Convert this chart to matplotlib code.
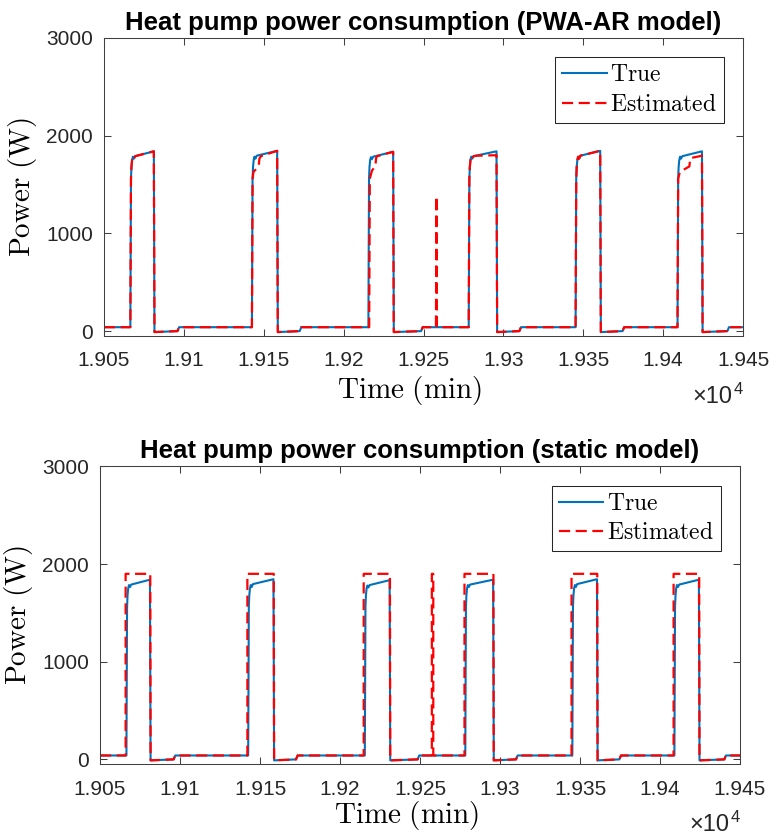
import matplotlib
matplotlib.use("Agg")
import matplotlib.pyplot as plt

plt.rcParams['font.family'] = ['Liberation Sans', 'DejaVu Sans']
plt.rcParams['mathtext.fontset'] = 'cm'

# time axis (min) and tick labels
xticks = [19050, 19100, 19150, 19200, 19250, 19300, 19350, 19400, 19450]
xticklabels = ['1.905', '1.91', '1.915', '1.92', '1.925', '1.93', '1.935', '1.94', '1.945']
yticks = [0, 1000, 2000, 3000]

# measured heat pump power (W)
true_t = [19050,
          19066.5, 19066.9, 19067.2, 19067.6, 19068.1, 19068.7, 19069.5, 19081.2, 19081.6, 19096.0, 19097.0,
          19142.6, 19143.0, 19143.3, 19143.7, 19144.2, 19144.8, 19145.6, 19158.4, 19158.8, 19172.5, 19173.5,
          19215.5, 19215.9, 19216.2, 19216.6, 19217.1, 19217.7, 19218.5, 19231.0, 19231.4, 19248.5, 19249.5,
          19278.3, 19278.7, 19279.0, 19279.4, 19279.9, 19280.5, 19281.3, 19295.7, 19296.1, 19310.0, 19311.0,
          19345.2, 19345.6, 19345.9, 19346.3, 19346.8, 19347.4, 19348.2, 19360.6, 19361.0, 19374.6, 19375.6,
          19409.0, 19409.4, 19409.7, 19410.1, 19410.6, 19411.2, 19412.0, 19424.3, 19424.7, 19440.2, 19441.2,
          19450]
true_w = [40,
          40, 1560, 1680, 1750, 1785, 1765, 1790, 1840, -10, 0, 40,
          40, 1560, 1680, 1750, 1785, 1765, 1795, 1845, -10, 0, 40,
          40, 1560, 1680, 1750, 1780, 1760, 1785, 1835, -10, 0, 40,
          40, 1560, 1680, 1750, 1785, 1765, 1790, 1840, -10, 0, 40,
          40, 1560, 1680, 1750, 1785, 1765, 1795, 1845, -10, 0, 40,
          40, 1560, 1680, 1750, 1785, 1765, 1790, 1840, -10, 0, 40,
          40]

# PWA-AR model estimate (W)
pwa_t = [19050,
         19066.5, 19066.9, 19067.2, 19067.6, 19068.1, 19068.7, 19069.5, 19081.2, 19081.6, 19096.0, 19097.0,
         19142.6, 19143.0, 19143.6, 19146.8, 19147.3, 19148.2, 19158.4, 19158.8, 19172.5, 19173.5,
         19216.0, 19216.4, 19217.8, 19219.9, 19220.3, 19221.0, 19231.0, 19231.4, 19248.5, 19249.5,
         19257.8, 19258.1, 19258.4,
         19278.3, 19278.7, 19279.0, 19279.4, 19279.9, 19280.5, 19281.3, 19283.5, 19295.7, 19296.1, 19310.0, 19311.0,
         19345.2, 19345.6, 19345.9, 19346.3, 19346.8, 19347.4, 19348.2, 19360.6, 19361.0, 19374.6, 19375.6,
         19409.0, 19409.4, 19410.5, 19416.4, 19417.0, 19424.3, 19424.7, 19440.2, 19441.2,
         19450]
pwa_w = [40,
         40, 1560, 1680, 1750, 1780, 1760, 1790, 1840, -10, 0, 40,
         40, 1560, 1630, 1685, 1765, 1790, 1845, -10, 0, 40,
         40, 1560, 1645, 1685, 1770, 1790, 1835, -10, 0, 40,
         40, 1380, 40,
         40, 1560, 1680, 1750, 1785, 1765, 1790, 1795, 1800, -10, 0, 40,
         40, 1560, 1680, 1750, 1785, 1765, 1795, 1845, -10, 0, 40,
         40, 1560, 1630, 1685, 1770, 1795, -10, 0, 40,
         40]

# static model estimate (W)
static_t = [19050,
            19066.0, 19066.0, 19081.4, 19081.6, 19096.0, 19097.0,
            19142.1, 19142.1, 19158.6, 19158.8, 19172.5, 19173.5,
            19214.8, 19214.8, 19231.2, 19231.4, 19248.5, 19249.5,
            19257.4, 19257.4, 19258.3, 19258.3,
            19277.8, 19277.8, 19295.9, 19296.1, 19310.0, 19311.0,
            19344.7, 19344.7, 19360.8, 19361.0, 19374.6, 19375.6,
            19408.5, 19408.5, 19424.5, 19424.7, 19440.2, 19441.2,
            19450]
static_w = [40,
            40, 1900, 1900, -10, 0, 40,
            40, 1900, 1900, -10, 0, 40,
            40, 1900, 1900, -10, 0, 40,
            40, 1900, 1900, 40,
            40, 1900, 1900, -10, 0, 40,
            40, 1900, 1900, -10, 0, 40,
            40, 1900, 1900, -10, 0, 40,
            40]

blue = '#0072BD'
axcol = '#404040'

fig = plt.figure(figsize=(7.76, 8.36), dpi=100)
ax1 = fig.add_axes([0.1340, 0.5981, 0.8235, 0.3565])
ax2 = fig.add_axes([0.1289, 0.0858, 0.8247, 0.3563])

panels = [(ax1, pwa_t, pwa_w, 'Heat pump power consumption (PWA-AR model)', -0.126),
          (ax2, static_t, static_w, 'Heat pump power consumption (static model)', -0.118)]

for ax, est_t, est_w, title, xlab_y in panels:
    ax.plot(true_t, true_w, color=blue, lw=1.5, label=r'$\mathrm{True}$')
    ln, = ax.plot(est_t, est_w, color='r', lw=1.6, ls='--', label=r'$\mathrm{Estimated}$')
    ln.set_dashes([5, 2.5])
    ax.set_xlim(19050, 19450)
    ax.set_ylim(-50, 3000)
    ax.set_xticks(xticks)
    ax.set_xticklabels(xticklabels)
    ax.set_yticks(yticks)
    ax.tick_params(direction='in', length=5, width=0.75, colors=axcol,
                   labelsize=15, labelcolor='#262626', top=True, right=True)
    ax.tick_params(axis='x', pad=11)
    ax.tick_params(axis='y', pad=8)
    for sp in ax.spines.values():
        sp.set_color(axcol)
        sp.set_linewidth(0.75)
    ax.set_title(title, fontsize=18.5, fontweight='bold', pad=6)
    ax.set_xlabel(r'$\mathrm{Time\ (min)}$', fontsize=21)
    ax.xaxis.set_label_coords(0.479, xlab_y)
    ax.set_ylabel(r'$\mathrm{Power\ (W)}$', fontsize=21, labelpad=5)
    leg = ax.legend(loc='upper right', bbox_to_anchor=(0.97, 0.935), borderaxespad=0,
                    fontsize=17, handlelength=1.9, handletextpad=0.15, labelspacing=0.32,
                    borderpad=0.3, fancybox=False, framealpha=1)
    leg.get_frame().set_edgecolor('#262626')
    leg.get_frame().set_linewidth(0.75)
    ax.text(0.983, -0.205, '\u00d710', transform=ax.transAxes, ha='right', va='center',
            fontsize=17, color='#262626')
    ax.text(0.985, -0.155, '4', transform=ax.transAxes, ha='left', va='top',
            fontsize=12, color='#262626')

fig.savefig('out.png', dpi=100)
